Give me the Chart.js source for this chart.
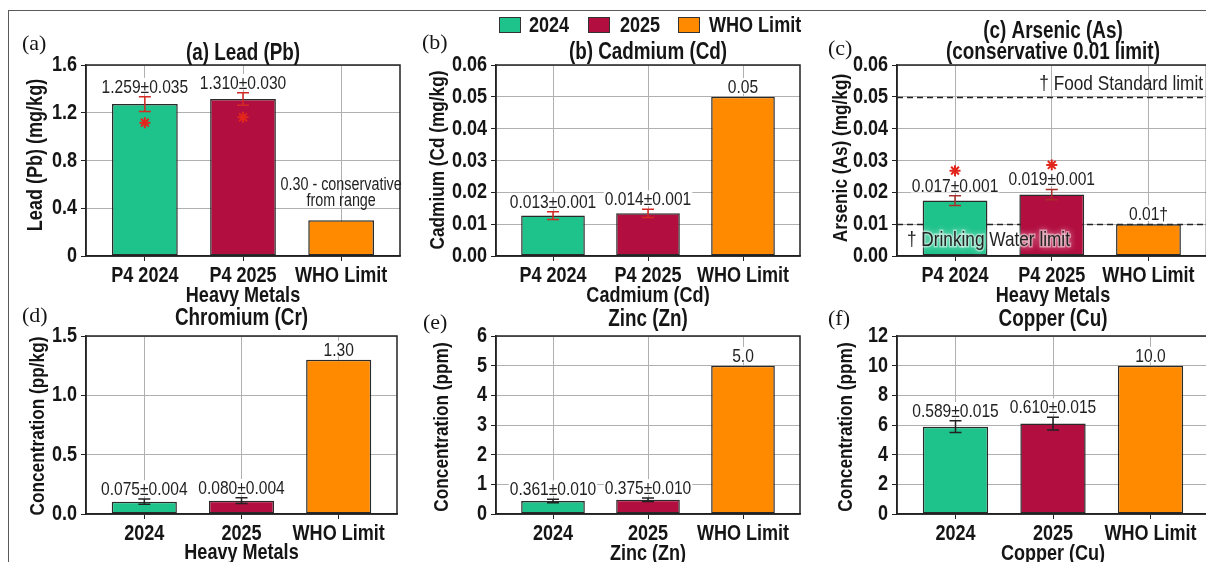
<!DOCTYPE html>
<html><head><meta charset="utf-8">
<script src="https://cdn.jsdelivr.net/npm/chart.js@4.4.1/dist/chart.umd.min.js"></script>
<style>
html,body{margin:0;padding:0;background:#fff;width:1206px;height:562px;overflow:hidden;position:relative}
canvas{position:absolute}
#frame{position:absolute;left:8px;top:10px;width:1220px;height:570px;border-left:1.5px solid #5a5a5a;border-top:1.5px solid #5a5a5a}
</style></head><body>
<div id="frame"></div>
<canvas id="cA"></canvas><canvas id="cB"></canvas><canvas id="cC"></canvas>
<canvas id="cD"></canvas><canvas id="cE"></canvas><canvas id="cF"></canvas>
<script>
// ---------------- DATA ----------------
const seriesNames = ['2024', '2025', 'WHO Limit'];
const categoriesTop = ['P4 2024', 'P4 2025', 'WHO Limit'];
const categoriesBottom = ['2024', '2025', 'WHO Limit'];

const leadValues = [1.273, 1.315, 0.30];
const leadErrors = [0.062, 0.052, null];
const leadStars = [1.117, 1.162, null];
const leadLabels = ['1.259±0.035', '1.310±0.030', '0.30 - conservative\nfrom range'];
const leadTicks = [0, 0.4, 0.8, 1.2, 1.6];

const cadmiumValues = [0.0127, 0.0134, 0.05];
const cadmiumErrors = [0.0012, 0.0013, null];
const cadmiumLabels = ['0.013±0.001', '0.014±0.001', '0.05'];
const cadmiumTicks = [0, 0.01, 0.02, 0.03, 0.04, 0.05, 0.06];

const arsenicValues = [0.0174, 0.0193, 0.01];
const arsenicErrors = [0.0015, 0.0016, null];
const arsenicStars = [0.0268, 0.0286, null];
const arsenicLabels = ['0.017±0.001', '0.019±0.001', '0.01†'];
const arsenicTicks = [0, 0.01, 0.02, 0.03, 0.04, 0.05, 0.06];
const arsenicRefLines = [0.05, 0.01];
const arsenicRefLabels = ['† Food Standard limit', '† Drinking Water limit'];

const chromiumValues = [0.104, 0.112, 1.30];
const chromiumErrors = [0.022, 0.024, null];
const chromiumLabels = ['0.075±0.004', '0.080±0.004', '1.30'];
const chromiumTicks = [0, 0.5, 1.0, 1.5];

const zincValues = [0.44, 0.48, 5.0];
const zincErrors = [0.06, 0.06, null];
const zincLabels = ['0.361±0.010', '0.375±0.010', '5.0'];
const zincTicks = [0, 1, 2, 3, 4, 5, 6];

const copperValues = [5.89, 6.10, 10.0];
const copperErrors = [0.39, 0.43, null];
const copperLabels = ['0.589±0.015', '0.610±0.015', '10.0'];
const copperTicks = [0, 2, 4, 6, 8, 10, 12];

// ---------------- STYLE ----------------
const COLORS = ['#1ec28b', '#b20e40', '#ff8a00'];
const GRID = '#b0b0b0';
const INK = '#151515';

function hasFont(f) {
  const ctx = document.createElement('canvas').getContext('2d');
  const probe = 'WHO Limit 0.013±0.001 Heavy Metals';
  ctx.font = '40px monospace'; const base = ctx.measureText(probe).width;
  ctx.font = '40px ' + f + ', monospace';
  return ctx.measureText(probe).width !== base;
}
let SANS = '"Liberation Sans Narrow"';
if (!hasFont(SANS)) {
  // emulate Arial-Narrow-like text: Liberation Sans condensed horizontally
  SANS = '"Liberation Sans"';
  const SQ = 0.82;
  const proto = CanvasRenderingContext2D.prototype;
  const oFill = proto.fillText, oStroke = proto.strokeText, oMeasure = proto.measureText;
  const narrow = c => c.font.indexOf('Liberation Sans') >= 0;
  proto.fillText = function (t, x, y) {
    if (!narrow(this)) return oFill.apply(this, arguments);
    this.save(); this.translate(x, y); this.scale(SQ, 1); oFill.call(this, t, 0, 0); this.restore();
  };
  proto.strokeText = function (t, x, y) {
    if (!narrow(this)) return oStroke.apply(this, arguments);
    this.save(); this.translate(x, y); this.scale(SQ, 1); oStroke.call(this, t, 0, 0); this.restore();
  };
  proto.measureText = function (t) {
    const m = oMeasure.call(this, t);
    if (!narrow(this)) return m;
    return {
      width: m.width * SQ,
      actualBoundingBoxLeft: m.actualBoundingBoxLeft * SQ, actualBoundingBoxRight: m.actualBoundingBoxRight * SQ,
      actualBoundingBoxAscent: m.actualBoundingBoxAscent, actualBoundingBoxDescent: m.actualBoundingBoxDescent,
      fontBoundingBoxAscent: m.fontBoundingBoxAscent, fontBoundingBoxDescent: m.fontBoundingBoxDescent
    };
  };
}
const SERIF = '"Liberation Serif", "DejaVu Serif", serif';
Chart.defaults.font.family = SANS;
Chart.defaults.color = INK;

function fmt(v, dec) { return dec == null ? String(+v.toFixed(3)) : v.toFixed(dec); }

// ---------------- PANELS (layout) ----------------
const panels = [
  { id: 'cA', left: 0, top: 0, w: 410, h: 306, L: 86, T: 65, R: 400, B: 256,
    values: leadValues, errors: leadErrors, stars: leadStars, labels: leadLabels, ticks: leadTicks, dec: null,
    cats: categoriesTop, errColor: '#d42a24',
    letter: ['(a)', 22, 43], titles: [['(a) Lead (Pb)', 53]], yTitle: ['Lead (Pb) (mg/kg)', 35, 155, 22],
    xTitle: ['Heavy Metals', 295] },
  { id: 'cB', left: 410, top: 0, w: 400, h: 306, L: 496, T: 65, R: 800, B: 256,
    values: cadmiumValues, errors: cadmiumErrors, labels: cadmiumLabels, ticks: cadmiumTicks, dec: 2,
    cats: categoriesTop, errColor: '#d42a24',
    letter: ['(b)', 422, 42], titles: [['(b) Cadmium (Cd)', 52]], yTitle: ['Cadmium (Cd (mg/kg)', 437, 160, 21],
    xTitle: ['Cadmium (Cd)', 295], legend: true },
  { id: 'cC', left: 811, top: 0, w: 403, h: 306, L: 897, T: 65, R: 1209, B: 256,
    values: arsenicValues, errors: arsenicErrors, stars: arsenicStars, labels: arsenicLabels, ticks: arsenicTicks, dec: 2,
    cats: categoriesTop, errColor: '#a8302a',
    letter: ['(c)', 828, 48], titles: [['(c) Arsenic (As)', 31], ['(conservative 0.01 limit)', 52]],
    yTitle: ['Arsenic (As) (mg/kg)', 840, 158, 21], xTitle: ['Heavy Metals', 295],
    refLines: arsenicRefLines, refLabels: arsenicRefLabels },
  { id: 'cD', left: 0, top: 271, w: 407, h: 293, L: 86, T: 336, R: 397, B: 514,
    values: chromiumValues, errors: chromiumErrors, labels: chromiumLabels, ticks: chromiumTicks, dec: 1,
    cats: categoriesBottom, errColor: '#222',
    letter: ['(d)', 22, 315], titles: [['Chromium (Cr)', 318]], yTitle: ['Concentration (pp/kg)', 37, 426, 21],
    xTitle: ['Heavy Metals', 552] },
  { id: 'cE', left: 410, top: 271, w: 400, h: 293, L: 496, T: 336, R: 800, B: 514,
    values: zincValues, errors: zincErrors, labels: zincLabels, ticks: zincTicks, dec: 0,
    cats: categoriesBottom, errColor: '#222',
    letter: ['(e)', 423, 322], titles: [['Zinc (Zn)', 319]], yTitle: ['Concentration (ppm)', 441, 427, 21],
    xTitle: ['Zinc (Zn)', 553] },
  { id: 'cF', left: 811, top: 271, w: 403, h: 293, L: 897, T: 336, R: 1209, B: 514,
    values: copperValues, errors: copperErrors, labels: copperLabels, ticks: copperTicks, dec: 0,
    cats: categoriesBottom, errColor: '#222',
    letter: ['(f)', 828, 318], titles: [['Copper (Cu)', 319]], yTitle: ['Concentration (ppm)', 845, 427, 21],
    xTitle: ['Copper (Cu)', 553] }
];

function panelPlugin(p) {
  return {
    id: 'panel_' + p.id,
    beforeDatasetsDraw(chart) {
      const ctx = chart.ctx, a = chart.chartArea, y = chart.scales.y;
      ctx.save();
      if (p.refLines) {
        ctx.strokeStyle = '#222'; ctx.lineWidth = 1.5; ctx.setLineDash([6, 4]);
        p.refLines.forEach(v => {
          const py = Math.round(y.getPixelForValue(v)) + 0.5;
          ctx.beginPath(); ctx.moveTo(a.left, py); ctx.lineTo(a.right, py); ctx.stroke();
        });
        ctx.setLineDash([]);
      }
      ctx.restore();
    },
    afterDatasetsDraw(chart) {
      const ctx = chart.ctx, a = chart.chartArea, xs = chart.scales.x, ys = chart.scales.y;
      ctx.save();
      ctx.strokeStyle = '#222'; ctx.lineWidth = 1.5;
      ctx.strokeRect(a.left, a.top, a.right - a.left, a.bottom - a.top);
      ctx.strokeStyle = p.errColor; ctx.lineWidth = 1.5;
      p.values.forEach((v, i) => {
        const e = p.errors[i]; if (e == null) return;
        const px = xs.getPixelForValue(i), y1 = ys.getPixelForValue(v + e), y0 = ys.getPixelForValue(v - e);
        ctx.beginPath();
        ctx.moveTo(px, y0); ctx.lineTo(px, y1);
        ctx.moveTo(px - 6, y0); ctx.lineTo(px + 6, y0);
        ctx.moveTo(px - 6, y1); ctx.lineTo(px + 6, y1);
        ctx.stroke();
      });
      ctx.textAlign = 'center'; ctx.textBaseline = 'alphabetic';
      p.labels.forEach((lab, i) => {
        const top = p.values[i] + (p.errors[i] || 0);
        const px = xs.getPixelForValue(i);
        const lines = lab.split('\n');
        const multi = lines.length > 1;
        const baseY = ys.getPixelForValue(top) - (multi ? 14 : 4);
        const lh = 16;
        lines.forEach((ln, k) => {
          const by = baseY - (lines.length - 1 - k) * lh;
          const fsize = multi ? 17.5 : 19;
          ctx.font = fsize + 'px ' + SANS;
          const tw = ctx.measureText(ln).width;
          if (!multi) { ctx.fillStyle = '#fff'; ctx.fillRect(px - tw / 2 - 1, by - fsize * 0.78, tw + 2, fsize * 0.82); }
          ctx.fillStyle = '#222';
          ctx.fillText(ln, px, by);
        });
      });
      ctx.restore();
    },
    afterDraw(chart) {
      const ctx = chart.ctx;
      ctx.save();
      ctx.translate(-p.left, -p.top);
      const cx = (p.L + p.R) / 2;
      ctx.fillStyle = INK;
      ctx.font = '22px ' + SERIF; ctx.textAlign = 'left'; ctx.textBaseline = 'middle';
      ctx.fillText(p.letter[0], p.letter[1], p.letter[2] + 1);
      ctx.font = 'bold 23px ' + SANS; ctx.textAlign = 'center';
      p.titles.forEach(([t, cy]) => ctx.fillText(t, cx, cy + 1));
      ctx.font = 'bold 22px ' + SANS;
      ctx.fillText(p.xTitle[0], cx, p.xTitle[1] + 1);
      ctx.save();
      ctx.translate(p.yTitle[1], p.yTitle[2]); ctx.rotate(-Math.PI / 2);
      ctx.font = 'bold ' + p.yTitle[3] + 'px ' + SANS;
      ctx.fillText(p.yTitle[0], 0, 1);
      ctx.restore();
      if (p.refLabels) {
        ctx.font = '21px ' + SANS; ctx.textBaseline = 'alphabetic';
        ctx.textAlign = 'right'; ctx.fillStyle = '#222';
        ctx.fillText(p.refLabels[0], 1203, 90);
        ctx.textAlign = 'left';
        ctx.save();
        ctx.shadowColor = 'rgba(255,255,255,0.95)'; ctx.shadowBlur = 6;
        ctx.lineWidth = 3; ctx.strokeStyle = 'rgba(255,255,255,0.45)';
        ctx.strokeText(p.refLabels[1], 907, 246);
        ctx.restore();
        ctx.fillStyle = '#222';
        ctx.fillText(p.refLabels[1], 907, 246);
      }
      if (p.legend) {
        const bx = [499, 588, 678], tx = [529, 620, 709];
        ctx.font = 'bold 22px ' + SANS; ctx.textAlign = 'left'; ctx.textBaseline = 'middle';
        seriesNames.forEach((n, i) => {
          ctx.fillStyle = COLORS[i]; ctx.fillRect(bx[i], 17, 22, 16);
          ctx.strokeStyle = '#333'; ctx.lineWidth = 1; ctx.strokeRect(bx[i] + 0.5, 17.5, 21, 15);
          ctx.fillStyle = INK; ctx.fillText(n, tx[i], 26);
        });
      }
      ctx.restore();
    }
  };
}

function makePanel(p) {
  const cv = document.getElementById(p.id);
  cv.width = p.w; cv.height = p.h;
  cv.style.left = p.left + 'px'; cv.style.top = p.top + 'px';
  cv.style.width = p.w + 'px'; cv.style.height = p.h + 'px';
  const datasets = [{
    type: 'bar', data: p.values.map((v, i) => ({ x: i, y: v })),
    backgroundColor: COLORS, borderColor: '#2a2a2a', borderWidth: 1.5, borderSkipped: false,
    barPercentage: 0.67, categoryPercentage: 1, order: 2
  }];
  if (p.stars) {
    datasets.push({
      type: 'scatter', data: p.stars.map((v, i) => v == null ? null : ({ x: i, y: v })).filter(Boolean),
      pointStyle: 'star', radius: 5.5, borderColor: '#e3261c', backgroundColor: '#e3261c', borderWidth: 2, order: 0
    });
  }
  const tickFont = { size: 22, weight: 'bold' };
  new Chart(cv, {
    type: 'bar',
    data: { datasets },
    options: {
      responsive: false, animation: false, devicePixelRatio: 1,
      layout: { padding: { left: 0, top: p.T - p.top, right: (p.left + p.w) - p.R, bottom: 0 } },
      plugins: { legend: { display: false }, tooltip: { enabled: false }, title: { display: false } },
      scales: {
        x: {
          type: 'linear', min: -0.6, max: 2.6, offset: false,
          grid: { offset: false, color: GRID, lineWidth: 1, tickLength: 5, tickColor: '#222', drawTicks: true },
          border: { display: true, color: '#222', width: 1.5 },
          afterBuildTicks: s => { s.ticks = p.cats.map((c, i) => ({ value: i })); },
          afterFit: s => { s.height = (p.top + p.h) - p.B; },
          ticks: { autoSkip: false, maxRotation: 0, padding: 2, color: INK, font: tickFont, callback: v => p.cats[v] }
        },
        y: {
          type: 'linear', min: 0, max: p.ticks[p.ticks.length - 1],
          grid: { color: GRID, lineWidth: 1, tickLength: 5, tickColor: '#222', drawTicks: true },
          border: { display: true, color: '#222', width: 1.5 },
          afterBuildTicks: s => { s.ticks = p.ticks.map(v => ({ value: v })); },
          afterFit: s => { s.width = p.L - p.left; },
          ticks: { padding: 4, color: INK, font: tickFont, callback: v => fmt(v, p.dec) }
        }
      }
    },
    plugins: [panelPlugin(p)]
  });
}
panels.forEach(makePanel);
</script>
</body></html>
